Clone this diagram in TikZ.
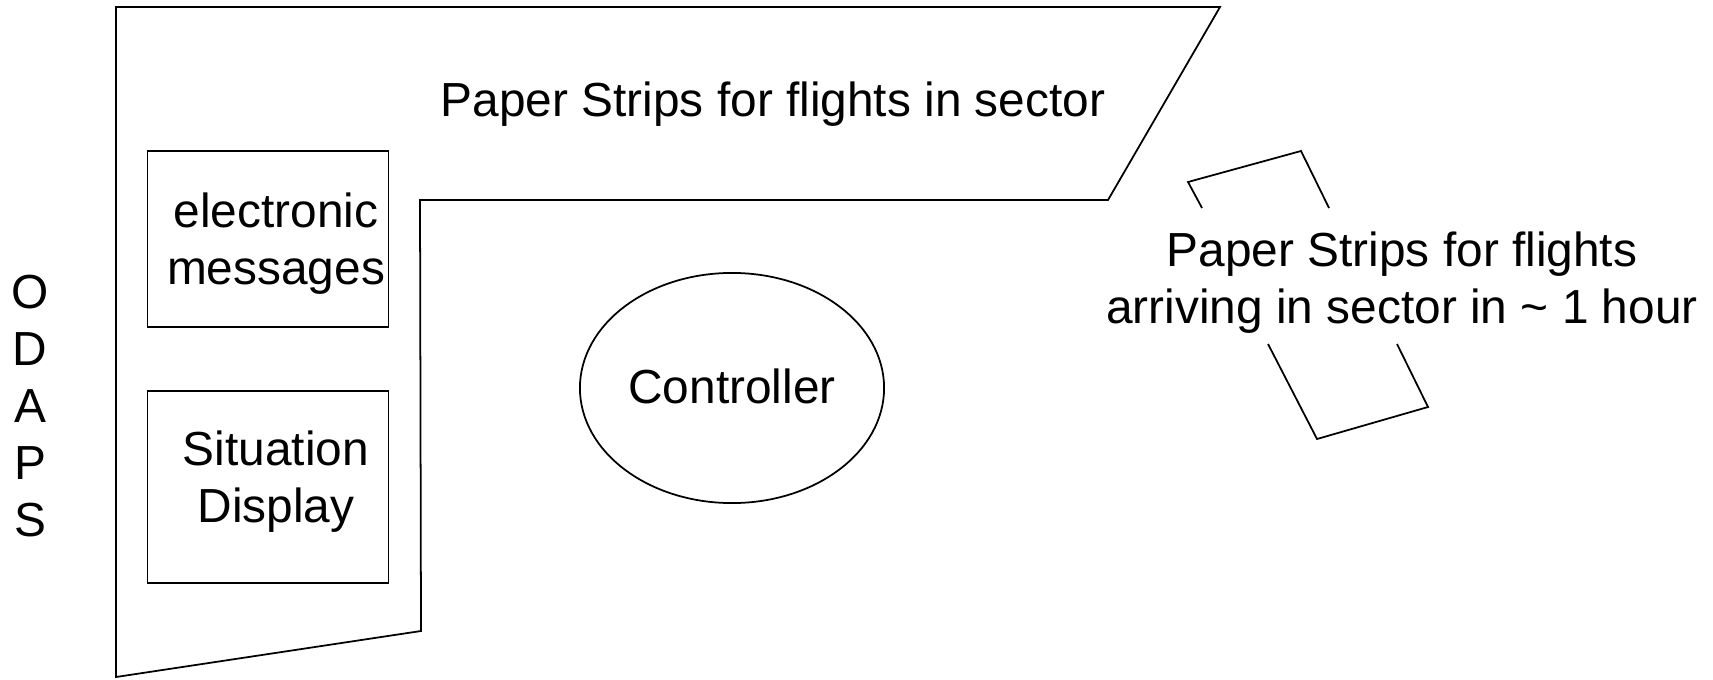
\documentclass[tikz,border=0pt]{standalone}
\usepackage{fontspec}
\setmainfont{Liberation Sans}
\usetikzlibrary{shapes.geometric}
\tikzset{every node/.style={font=\fontsize{13.6pt}{16.2pt}\selectfont},
  panel/.style={draw, minimum width=2.41cm, inner sep=0pt}}

\begin{document}
\begin{tikzpicture}[x=0.01cm,y=-0.01cm,line width=0.5pt]
\useasboundingbox (0,0) rectangle (1713,679);
% console outline
\draw (116,7) -- (1220,7) -- (1108,200) -- (420,200) -- (421,631) -- (116,677) -- cycle;
\node[panel, minimum height=1.76cm] (msgs) at (268,239) {};
\node[align=center] (msgstext) at (276,244) {electronic\\messages};
\node[panel, minimum height=1.92cm] (sitdisp) at (268,487) {};
\node[align=center] (sittext) at (276,482) {Situation\\Display};
\node (strips) at (773,104) {Paper Strips for flights in sector};
\node[draw, ellipse, inner sep=0pt, minimum width=3.04cm, minimum height=2.3cm] (ctrl) at (732,388) {};
\node (ctrltext) at (732,386) {Controller};
\node[align=center] (odaps) at (30,406) {O\\D\\A\\P\\S};
% strips coming in
\draw (1202,208) -- (1188,182) -- (1301,151) -- (1329,208);
\draw (1268,344) -- (1317,439) -- (1428,407) -- (1397,344);
\node[align=center] (next) at (1402,283) {Paper Strips for flights\\arriving in sector in \textasciitilde{} 1 hour};
\end{tikzpicture}
\end{document}
